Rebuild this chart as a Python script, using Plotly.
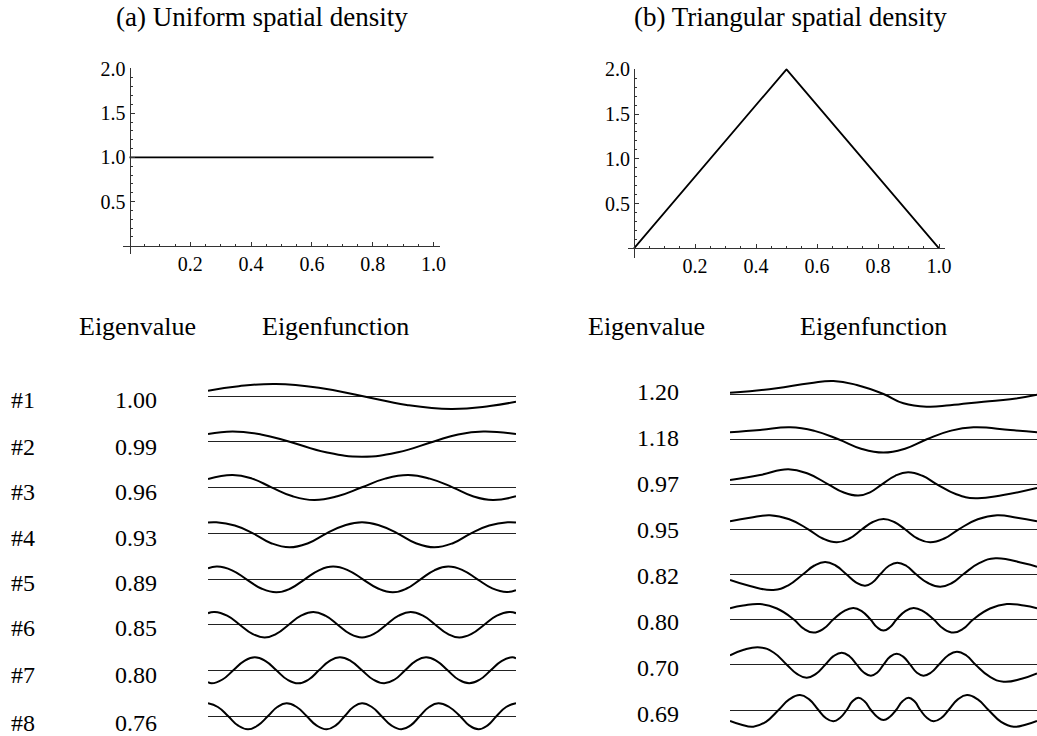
import plotly.graph_objects as go

W, H = 1037, 736
FONT = "Liberation Serif"
INK = "black"
AXIS = "#333333"

# ---------------- data ----------------
uniform_x = [0.0, 1.0]
uniform_y = [1.0, 1.0]
tri_x = [0.0, 0.5, 1.0]
tri_y = [0.0, 2.0, 0.0]

x_tickvals = [0.2, 0.4, 0.6, 0.8, 1.0]
x_ticktext = ["0.2", "0.4", "0.6", "0.8", "1.0"]
y_tickvals = [0.5, 1.0, 1.5, 2.0]
y_ticktext = ["0.5", "1.0", "1.5", "2.0"]
x_minor = [0.05, 0.1, 0.15, 0.25, 0.3, 0.35, 0.45, 0.5, 0.55,
           0.65, 0.7, 0.75, 0.85, 0.9, 0.95]
y_minor = [0.1, 0.2, 0.3, 0.4, 0.6, 0.7, 0.8, 0.9, 1.1, 1.2, 1.3, 1.4,
           1.6, 1.7, 1.8, 1.9]

titles = ["(a) Uniform spatial density", "(b) Triangular spatial density"]
header_value = "Eigenvalue"
header_func = "Eigenfunction"
row_labels = ["#1", "#2", "#3", "#4", "#5", "#6", "#7", "#8"]
uniform_eigenvalues = ["1.00", "0.99", "0.96", "0.93", "0.89", "0.85", "0.80", "0.76"]
triangular_eigenvalues = ["1.20", "1.18", "0.97", "0.95", "0.82", "0.80", "0.70", "0.69"]

# eigenfunctions (position along [0,1], value in arbitrary units)
u1_x = [0, 0.10, 0.22, 0.36, 0.5, 0.645, 0.79, 0.915, 1]
u1_y = [5.3, 9.8, 12, 8.3, 0, -9, -13, -10, -5.7]
u2_x = [0, 0.08, 0.172, 0.265, 0.383, 0.5, 0.617, 0.731, 0.812, 0.894, 1]
u2_y = [7.7, 10.3, 7.3, 0, -10.6, -15, -10.6, 0, 7.3, 10.3, 7.7]
u3_x = [0, 0.08, 0.143, 0.206, 0.275, 0.345, 0.42, 0.5, 0.575, 0.65, 0.72, 0.794,
        0.86, 0.925, 1]
u3_y = [8.3, 12.3, 8.7, 0, -9, -12.7, -9, 0, 8.7, 12.3, 8.7, 0, -9, -12.7, -9.0]
u4_x = [0, 0.027, 0.087, 0.146, 0.205, 0.265, 0.325, 0.385, 0.443, 0.5, 0.557,
        0.615, 0.675, 0.735, 0.795, 0.854, 0.913, 0.973, 1]
u4_y = [10.7, 11, 7.8, 0, -9.9, -14, -9.9, 0, 7.8, 11, 7.8, 0, -9.9, -14, -9.9, 0,
        7.8, 11, 10.7]
u5_x = [0, 0.03, 0.078, 0.125, 0.173, 0.222, 0.268, 0.314, 0.36, 0.406, 0.455,
        0.503, 0.552, 0.6, 0.645, 0.69, 0.735, 0.78, 0.828, 0.875, 0.923, 0.97, 1]
u5_y = [11, 12.7, 9, 0, -9.2, -13, -9.2, 0, 9, 12.7, 9, 0, -9.2, -13, -9.2, 0, 9,
        12.7, 9, 0, -9, -12.7, -11]
u6_x = [0, 0.022, 0.062, 0.103, 0.143, 0.184, 0.223, 0.262, 0.302, 0.342, 0.381,
        0.421, 0.46, 0.5, 0.54, 0.579, 0.619, 0.658, 0.698, 0.738, 0.777, 0.816,
        0.857, 0.897, 0.938, 0.978, 1]
u6_y = [11.5, 12.7, 9, 0, -9, -12.7, -9, 0, 9, 12.7, 9, 0, -9, -12.7, -9, 0, 9,
        12.7, 9, 0, -9, -12.7, -9, 0, 9, 12.7, 11.5]
u7_x = [0, 0.012, 0.047, 0.082, 0.117, 0.152, 0.187, 0.222, 0.257, 0.293, 0.327,
        0.36, 0.394, 0.428, 0.464, 0.5, 0.536, 0.572, 0.606, 0.64, 0.674, 0.708,
        0.743, 0.778, 0.813, 0.848, 0.883, 0.918, 0.953, 0.988, 1]
u7_y = [-11.8, -13, -9.2, 0, 9.2, 13, 9.2, 0, -9.2, -13, -9.2, 0, 9.2, 13, 9.2, 0,
        -9.2, -13, -9.2, 0, 9.2, 13, 9.2, 0, -9.2, -13, -9.2, 0, 9.2, 13, 11.8]
u8_x = [0, 0.032, 0.065, 0.097, 0.13, 0.162, 0.195, 0.225, 0.255, 0.288, 0.32,
        0.352, 0.385, 0.415, 0.444, 0.472, 0.5, 0.532, 0.563, 0.595, 0.628, 0.658,
        0.688, 0.718, 0.748, 0.783, 0.818, 0.848, 0.878, 0.908, 0.937, 0.968, 1]
u8_y = [12.7, 9, 0, -9.4, -13.3, -9.4, 0, 9, 12.7, 9, 0, -9.4, -13.3, -9.4, 0, 9,
        12.7, 9, 0, -9.4, -13.3, -9.4, 0, 9, 12.7, 9, 0, -9.4, -13.3, -9.4, 0, 9, 12.7]

t1_x = [0, 0.065, 0.152, 0.26, 0.337, 0.413, 0.5, 0.565, 0.641, 0.717, 0.826, 0.913, 1]
t1_y = [1.3, 2.7, 5.7, 10.7, 13, 9, 0, -9.3, -12.7, -11.3, -7.7, -5.3, -0.7]
t2_x = [0, 0.098, 0.196, 0.275, 0.353, 0.427, 0.5, 0.57, 0.641, 0.717, 0.793, 0.913, 1]
t2_y = [7, 9.3, 12, 8.4, 0, -9.4, -13.3, -9.4, 0, 8.4, 12, 9.3, 7]
t3_x = [0, 0.098, 0.19, 0.255, 0.32, 0.369, 0.418, 0.456, 0.495, 0.538, 0.58, 0.627,
        0.674, 0.737, 0.80, 0.89, 1]
t3_y = [4.3, 9.3, 15, 10.5, 0, -8, -11.3, -8, 0, 8.5, 12, 8.5, 0, -10, -14, -10.7, -3.7]
t4_x = [0, 0.065, 0.13, 0.193, 0.255, 0.302, 0.348, 0.389, 0.43, 0.465, 0.5, 0.535,
        0.57, 0.611, 0.652, 0.698, 0.745, 0.807, 0.87, 0.935, 1]
t4_y = [8, 11.5, 14, 10, 0, -9.2, -13, -9.2, 0, 7.3, 10.3, 7.3, 0, -9.2, -13, -9.2,
        0, 10, 14, 11.5, 8]
t5_x = [0, 0.065, 0.141, 0.19, 0.239, 0.275, 0.31, 0.344, 0.378, 0.41, 0.44, 0.465,
        0.49, 0.517, 0.545, 0.575, 0.605, 0.645, 0.685, 0.723, 0.761, 0.813, 0.865,
        0.957, 1]
t5_y = [-6, -12, -16, -11.3, 0, 8.5, 12, 8.5, 0, -8.3, -11.7, -8.3, 0, 8, 11.3, 8, 0,
        -9, -12.7, -9, 0, 11.1, 15.7, 10.7, 7.3]
t6_x = [0, 0.043, 0.098, 0.153, 0.207, 0.24, 0.272, 0.305, 0.337, 0.37, 0.402, 0.43,
        0.457, 0.479, 0.5, 0.521, 0.543, 0.57, 0.598, 0.63, 0.663, 0.695, 0.728, 0.76,
        0.793, 0.847, 0.902, 0.957, 1]
t6_y = [11, 13.7, 15.3, 10.8, 0, -9.4, -13.3, -9.4, 0, 8, 11.3, 8, 0, -8, -11.3, -8,
        0, 8, 11.3, 8, 0, -9.4, -13.3, -9.4, 0, 10.8, 15.3, 13.7, 11]
t7_x = [0, 0.045, 0.098, 0.142, 0.185, 0.218, 0.25, 0.28, 0.31, 0.337, 0.364, 0.389,
        0.413, 0.436, 0.459, 0.48, 0.5, 0.521, 0.543, 0.565, 0.587, 0.608, 0.63,
        0.655, 0.68, 0.71, 0.739, 0.77, 0.8, 0.846, 0.891, 0.95, 1]
t7_y = [9.3, 15, 17.3, 12.2, 0, -9.2, -13, -9.2, 0, 8.5, 12, 8.5, 0, -7.8, -11, -7.8,
        0, 7.8, 11, 7.8, 0, -7.8, -11, -7.8, 0, 9.2, 13, 9.2, 0, -12, -17, -14, -8.7]
t8_x = [0, 0.035, 0.076, 0.117, 0.158, 0.193, 0.228, 0.258, 0.288, 0.312, 0.337,
        0.358, 0.38, 0.399, 0.418, 0.438, 0.459, 0.48, 0.5, 0.52, 0.541, 0.562, 0.582,
        0.601, 0.62, 0.642, 0.663, 0.688, 0.712, 0.742, 0.772, 0.807, 0.842, 0.883,
        0.924, 0.965, 1]
t8_y = [-11, -14.5, -16.7, -11.8, 0, 10.6, 15, 10.6, 0, -8, -11.3, -8, 0, 8.7, 12.3,
        8.7, 0, -7, -10, -7, 0, 8.7, 12.3, 8.7, 0, -8, -11.3, -8, 0, 10.6, 15, 10.6, 0,
        -11.8, -16.7, -14.5, -11]

uniform_funcs = [(u1_x, u1_y), (u2_x, u2_y), (u3_x, u3_y), (u4_x, u4_y),
                 (u5_x, u5_y), (u6_x, u6_y), (u7_x, u7_y), (u8_x, u8_y)]
tri_funcs = [(t1_x, t1_y), (t2_x, t2_y), (t3_x, t3_y), (t4_x, t4_y),
             (t5_x, t5_y), (t6_x, t6_y), (t7_x, t7_y), (t8_x, t8_y)]

# ---------------- layout geometry (pixels) ----------------
def fx(px):
    return min(max(px / W, 0.0), 1.0)


def fy(py):
    return min(max(1 - py / H, 0.0), 1.0)


fig = go.Figure()
layout = dict(
    width=W, height=H, autosize=False,
    margin=dict(l=0, r=0, t=0, b=0, pad=0, autoexpand=False),
    paper_bgcolor="white", plot_bgcolor="white",
    showlegend=False,
    font=dict(family=FONT, color=INK, size=20),
)

panels = [
    dict(ox=129.5, oy=245.7, sx=304.0, sy=88.35, xs=(122.8, 439.6), ys=(253.6, 68.2),
         x=uniform_x, y=uniform_y),
    dict(ox=634.0, oy=248.3, sx=305.0, sy=89.5, xs=(628.0, 945.0), ys=(258.0, 68.5),
         x=tri_x, y=tri_y),
]

for i, p in enumerate(panels):
    n = "" if i == 0 else str(i + 1)
    xr = [(p["xs"][0] - p["ox"]) / p["sx"], (p["xs"][1] - p["ox"]) / p["sx"]]
    yr = [(p["oy"] - p["ys"][0]) / p["sy"], (p["oy"] - p["ys"][1]) / p["sy"]]
    layout["xaxis" + n] = dict(
        domain=[fx(p["xs"][0]), fx(p["xs"][1])], range=xr,
        anchor="free", position=fy(p["oy"]),
        showline=True, linecolor=AXIS, linewidth=1,
        showgrid=False, zeroline=False, automargin=False,
        ticks="inside", ticklen=4, tickwidth=1, tickcolor=AXIS,
        tickmode="array", tickvals=x_tickvals, ticktext=x_ticktext,
        tickfont=dict(family=FONT, size=20, color=INK),
        minor=dict(tickmode="array", tickvals=x_minor, ticks="inside",
                   ticklen=2, tickwidth=1, tickcolor=AXIS, showgrid=False),
        fixedrange=True,
    )
    layout["yaxis" + n] = dict(
        domain=[fy(p["ys"][0]), fy(p["ys"][1])], range=yr,
        anchor="free", position=fx(p["ox"]),
        showline=True, linecolor=AXIS, linewidth=1,
        showgrid=False, zeroline=False, automargin=False,
        ticks="inside", ticklen=4, tickwidth=1, tickcolor=AXIS,
        tickmode="array", tickvals=y_tickvals, ticktext=y_ticktext,
        tickfont=dict(family=FONT, size=20, color=INK),
        minor=dict(tickmode="array", tickvals=y_minor, ticks="inside",
                   ticklen=2, tickwidth=1, tickcolor=AXIS, showgrid=False),
        fixedrange=True,
    )
    fig.add_trace(go.Scatter(x=p["x"], y=p["y"], mode="lines",
                             line=dict(color=INK, width=1.8),
                             xaxis="x" + n, yaxis="y" + n, hoverinfo="skip"))

# eigenfunction rows
left_base = [396.0, 441.7, 487.3, 533.3, 579.3, 624.7, 670.3, 716.0]
right_base = [394.0, 439.3, 484.3, 529.3, 574.0, 619.3, 664.7, 710.0]
left_span = (208.0, 516.0)
right_span = (730.0, 1037.0)
HALF = 22.0

ax_id = 3
for funcs, bases, span in [(uniform_funcs, left_base, left_span),
                           (tri_funcs, right_base, right_span)]:
    for (xs, ys), b in zip(funcs, bases):
        n = str(ax_id)
        bottom_px = min(b + HALF, H)
        layout["xaxis" + n] = dict(
            domain=[fx(span[0]), fx(span[1])], range=[0, 1],
            anchor="y" + n, showline=False, showgrid=False, zeroline=False,
            showticklabels=False, ticks="", fixedrange=True, automargin=False,
        )
        layout["yaxis" + n] = dict(
            domain=[fy(bottom_px), fy(b - HALF)], range=[-(bottom_px - b), HALF],
            anchor="x" + n, showline=False, showgrid=False,
            zeroline=True, zerolinecolor="#222222", zerolinewidth=1,
            showticklabels=False, ticks="", fixedrange=True, automargin=False,
        )
        fig.add_trace(go.Scatter(x=xs, y=ys, mode="lines",
                                 line=dict(color=INK, width=2, shape="spline",
                                           smoothing=1.3),
                                 xaxis="x" + n, yaxis="y" + n, hoverinfo="skip",
                                 cliponaxis=False))
        ax_id += 1

# ---------------- text ----------------
ann = []


def text(s, px, py, size):
    ann.append(dict(text=s, x=fx(px), y=fy(py), xref="paper", yref="paper",
                    xanchor="center", yanchor="middle", showarrow=False,
                    font=dict(family=FONT, size=size, color=INK)))


text(titles[0], 261.5, 17, 27)
text(titles[1], 790.0, 17, 27)
text(header_value, 137.5, 326, 26)
text(header_func, 335.8, 326, 26)
text(header_value, 646.0, 326, 26)
text(header_func, 873.0, 326, 26)

left_text_y = [399.5, 447.0, 492.0, 537.7, 583.2, 628.0, 674.7, 722.7]
right_text_y = [392.0, 438.0, 484.0, 530.0, 576.0, 622.0, 668.0, 714.0]
for lab, ev, ty in zip(row_labels, uniform_eigenvalues, left_text_y):
    text(lab, 22.5, ty, 24)
    text(ev, 136.0, ty, 24)
for ev, ty in zip(triangular_eigenvalues, right_text_y):
    text(ev, 657.5, ty, 24)

layout["annotations"] = ann
fig.update_layout(**layout)
fig.write_html("out.html")
